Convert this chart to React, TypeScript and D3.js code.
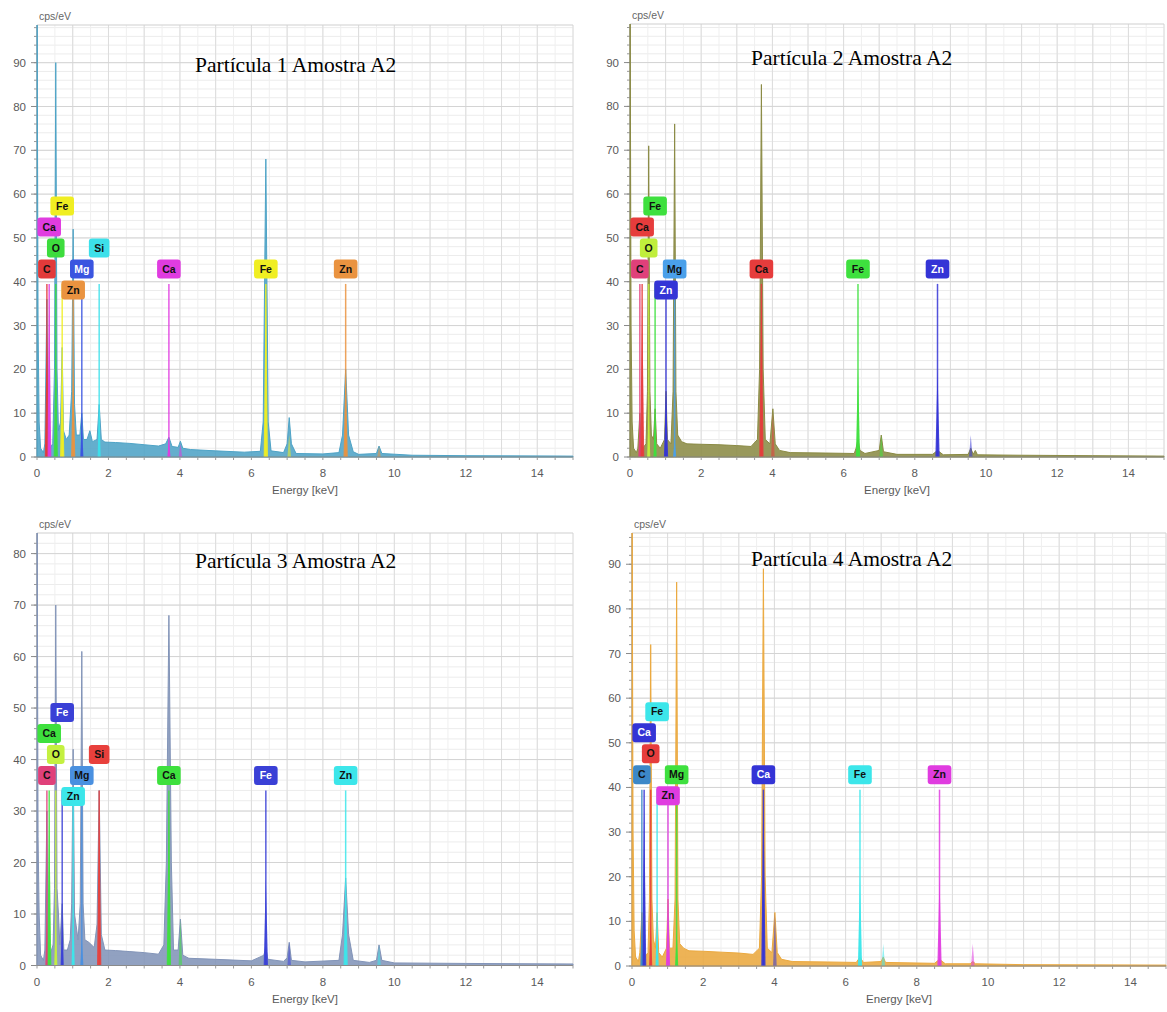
import React from "react";
import * as d3 from "d3";

type Pt = [number, number];

// ---------- shared axis values ----------
const panelTitles = [
  "Partícula 1 Amostra A2",
  "Partícula 2 Amostra A2",
  "Partícula 3 Amostra A2",
  "Partícula 4 Amostra A2",
];
const xTickValues = [0, 2, 4, 6, 8, 10, 12, 14];
const yTicksTo90 = [0, 10, 20, 30, 40, 50, 60, 70, 80, 90];
const yTicksTo80 = [0, 10, 20, 30, 40, 50, 60, 70, 80];
const xAxisTitle = "Energy [keV]";
const yAxisTitle = "cps/eV";

// K-beta lines drawn without labels
const betaSymbols = ["Ca", "Fe", "Zn"];
const betaEnergies = [4.013, 7.058, 9.572];

// ---------- Partícula 1 ----------
const p1Spectrum: Pt[] = [
  [0, 0], [0.005, 98.6], [0.03, 30], [0.06, 8], [0.1, 2], [0.18, 1], [0.22, 3],
  [0.277, 36], [0.31, 8], [0.36, 2], [0.44, 3], [0.49, 20], [0.525, 90], [0.56, 20],
  [0.6, 6], [0.66, 8], [0.705, 25], [0.74, 6], [0.82, 4], [0.9, 5], [0.97, 15],
  [1.012, 52], [1.05, 12], [1.1, 5], [1.2, 5], [1.254, 10], [1.3, 4], [1.4, 4],
  [1.48, 6], [1.55, 3.5], [1.68, 4], [1.74, 12], [1.8, 4], [1.9, 3.4], [2.2, 3.3],
  [2.6, 3.1], [3.0, 2.8], [3.4, 2.5], [3.6, 3], [3.691, 4.5], [3.78, 2.4], [3.95, 2.2],
  [4.013, 3.6], [4.08, 2], [4.3, 1.7], [5.0, 1.4], [5.8, 1.1], [6.25, 1.3], [6.33, 8],
  [6.404, 68], [6.47, 8], [6.55, 1.4], [6.9, 1], [7.0, 3], [7.058, 9], [7.12, 3],
  [7.25, 0.8], [8.0, 0.7], [8.45, 1], [8.55, 5], [8.638, 20], [8.72, 5], [8.85, 1.2],
  [9.0, 0.6], [9.5, 0.8], [9.572, 2.5], [9.65, 0.8], [10.5, 0.4], [12, 0.3], [15, 0.2],
];
const p1Symbols = ["C", "O", "Mg", "Si", "Ca", "Fe", "Zn", "Ca", "Fe", "Zn"];
const p1Energies = [0.277, 0.525, 1.254, 1.74, 3.691, 6.404, 8.638, 0.341, 0.705, 1.012];
const p1Fits = [30, 25, 8, 12, 4, 40, 20, 36, 25, 20];
const p1Tiers = [0, 1, 0, 1, 0, 0, 0, 2, 3, -1];
const p1BetaFits = [3, 5, 2.5];
const p1Palette: Record<string, string> = {
  C: "#e23a3a", O: "#3ddc3d", Mg: "#3a55e0", Si: "#3ce0ea",
  Ca: "#e03ce0", Fe: "#f0ee22", Zn: "#ea9340",
};

// ---------- Partícula 2 ----------
const p2Spectrum: Pt[] = [
  [0, 0], [0.005, 98.8], [0.03, 30], [0.06, 8], [0.1, 2], [0.18, 1], [0.22, 2],
  [0.277, 10], [0.31, 3], [0.36, 2], [0.45, 3], [0.49, 15], [0.525, 71], [0.56, 15],
  [0.6, 5], [0.66, 4], [0.705, 11], [0.75, 3], [0.85, 2], [0.97, 4], [1.012, 15],
  [1.05, 4], [1.15, 3], [1.21, 15], [1.254, 76], [1.29, 15], [1.34, 5], [1.45, 3.5],
  [1.6, 3], [2.0, 2.9], [2.5, 2.8], [3.0, 2.6], [3.4, 2.4], [3.58, 4], [3.64, 20],
  [3.691, 85], [3.74, 20], [3.8, 4], [3.93, 3], [4.013, 11], [4.08, 3], [4.2, 1.5],
  [4.5, 1], [5.5, 0.9], [6.3, 0.8], [6.35, 2], [6.404, 4], [6.46, 1.5], [6.6, 0.8],
  [7.0, 1.5], [7.058, 5], [7.12, 1.2], [7.5, 0.6], [8.5, 0.6], [8.638, 1.5], [8.8, 0.5],
  [9.5, 0.6], [9.572, 2], [9.64, 0.6], [9.7, 1.5], [9.76, 0.5], [11, 0.4], [13, 0.3],
  [15, 0.2],
];
const p2Symbols = ["C", "O", "Mg", "Ca", "Fe", "Zn", "Ca", "Fe", "Zn"];
const p2Energies = [0.277, 0.525, 1.254, 3.691, 6.404, 8.638, 0.341, 0.705, 1.012];
const p2Fits = [10, 11, 4, 40, 20, 20, 36, 11, 15];
const p2Tiers = [0, 1, 0, 0, 0, 0, 2, 3, -1];
const p2BetaFits = [10, 5, 5];
const p2Palette: Record<string, string> = {
  C: "#e0407a", O: "#c0ee3c", Mg: "#4aa0ea",
  Ca: "#e63c3c", Fe: "#3ee03e", Zn: "#3434d6",
};

// ---------- Partícula 3 ----------
const p3Spectrum: Pt[] = [
  [0, 0], [0.005, 84], [0.03, 25], [0.06, 10], [0.1, 2], [0.18, 1], [0.22, 3],
  [0.277, 30], [0.31, 5], [0.36, 2], [0.45, 4], [0.49, 15], [0.525, 70], [0.56, 15],
  [0.6, 10], [0.64, 4], [0.705, 12], [0.75, 3], [0.85, 3], [0.93, 5], [0.97, 12],
  [1.012, 42], [1.05, 10], [1.15, 5], [1.21, 12], [1.254, 61], [1.29, 12], [1.34, 5],
  [1.45, 4.5], [1.6, 3.5], [1.68, 8], [1.74, 34], [1.8, 6], [1.9, 3], [2.2, 2.9],
  [2.6, 2.7], [3.0, 2.5], [3.4, 2.2], [3.55, 4], [3.62, 20], [3.691, 68], [3.76, 20],
  [3.82, 3], [3.95, 3], [4.013, 9], [4.08, 2], [4.25, 1.4], [5.0, 1.2], [6.0, 0.9],
  [6.35, 2], [6.404, 3.5], [6.46, 1.2], [6.9, 0.8], [7.0, 1.5], [7.058, 4.5], [7.12, 1],
  [7.5, 0.7], [8.45, 1], [8.55, 6], [8.638, 17], [8.72, 6], [8.85, 1], [9.3, 0.6],
  [9.5, 1], [9.572, 4], [9.65, 1], [10, 0.5], [12, 0.4], [15, 0.3],
];
const p3Symbols = ["C", "O", "Mg", "Si", "Ca", "Fe", "Zn", "Ca", "Fe", "Zn"];
const p3Energies = [0.277, 0.525, 1.254, 1.74, 3.691, 6.404, 8.638, 0.341, 0.705, 1.012];
const p3Fits = [10, 10, 5, 33, 33, 17, 17, 30, 10, 12];
const p3Tiers = [0, 1, 0, 1, 0, 0, 0, 2, 3, -1];
const p3BetaFits = [9, 4.5, 4];
const p3Palette: Record<string, string> = {
  C: "#e0407a", O: "#c4f040", Mg: "#4a90e0", Si: "#e8403c",
  Ca: "#3ee03e", Fe: "#3a40d6", Zn: "#3ce6ea",
};

// ---------- Partícula 4 ----------
const p4Spectrum: Pt[] = [
  [0, 0], [0.005, 97], [0.03, 30], [0.06, 8], [0.1, 2], [0.18, 1], [0.22, 3],
  [0.277, 12], [0.31, 4], [0.36, 2], [0.45, 3], [0.49, 15], [0.525, 72], [0.56, 15],
  [0.6, 6], [0.66, 4], [0.705, 12], [0.75, 3], [0.85, 2], [0.97, 4], [1.012, 15],
  [1.05, 4], [1.15, 4], [1.21, 15], [1.254, 86], [1.29, 15], [1.34, 5], [1.45, 4],
  [1.6, 3.4], [2.0, 3.3], [2.5, 3.1], [3.0, 2.9], [3.4, 2.6], [3.58, 4], [3.64, 20],
  [3.691, 89], [3.74, 20], [3.8, 4], [3.93, 3], [4.013, 12], [4.08, 3], [4.2, 1.5],
  [4.5, 1], [5.5, 0.9], [6.3, 0.8], [6.404, 2], [6.5, 0.8], [7.0, 1], [7.058, 2],
  [7.12, 0.8], [8.5, 0.6], [8.638, 1.5], [8.8, 0.5], [9.5, 0.5], [9.572, 1], [9.65, 0.5],
  [11, 0.3], [15, 0.2],
];
const p4Symbols = ["C", "O", "Mg", "Ca", "Fe", "Zn", "Ca", "Fe", "Zn"];
const p4Energies = [0.277, 0.525, 1.254, 3.691, 6.404, 8.638, 0.341, 0.705, 1.012];
const p4Fits = [10, 10, 8, 40, 20, 20, 36, 12, 15];
const p4Tiers = [0, 1, 0, 0, 0, 0, 2, 3, -1];
const p4BetaFits = [12, 5, 5];
const p4Palette: Record<string, string> = {
  C: "#3c88c8", O: "#e63c3c", Mg: "#3ee03e",
  Ca: "#3434d6", Fe: "#3ce6ea", Zn: "#e03ce0",
};

// ---------- layout ----------
interface PanelProps {
  title: string;
  titleX: number;
  titleY: number;
  left: number;
  right: number;
  top: number;
  bottom: number;
  yMax: number;
  yTicks: number[];
  markerTop: number;
  spectrum: Pt[];
  fill: string;
  symbols: string[];
  energies: number[];
  fits: number[];
  tiers: number[];
  betaFits: number[];
  palette: Record<string, string>;
}

const sansFont = "'Liberation Sans', Arial, sans-serif";
const serifFont = "'Liberation Serif', 'Times New Roman', serif";

function labelWidth(sym: string): number {
  let w = 0;
  for (const ch of sym) {
    if (/[A-Z]/.test(ch)) w += 7.6;
    else if (ch === "i" || ch === "l") w += 3;
    else w += 6;
  }
  return w + 10;
}

function isDark(color: string): boolean {
  const c = d3.rgb(color);
  return 0.299 * c.r + 0.587 * c.g + 0.114 * c.b < 100;
}

function Panel(p: PanelProps) {
  const x = d3.scaleLinear().domain([0, 15]).range([p.left, p.right]);
  const y = d3.scaleLinear().domain([0, p.yMax]).range([p.bottom, p.top]);
  const area = d3
    .area<Pt>()
    .x((d) => x(d[0]))
    .y0(y(0))
    .y1((d) => y(Math.min(d[1], p.yMax)));

  const minorY = d3.range(0, p.yMax, 2);
  const minorX = d3.range(0, 15.01, 0.5);
  const majorX = d3.range(0, 15.01, 1);

  const peak = (e: number, h: number, w: number): Pt[] => [
    [e - w, 0],
    [e, h],
    [e + w, 0],
  ];

  const markerY = y(p.markerTop);

  return (
    <g>
      {/* grid */}
      {minorY.map((v) => (
        <line key={"my" + v} x1={p.left} x2={p.right} y1={y(v)} y2={y(v)} stroke="#ececec" strokeWidth={1} />
      ))}
      {minorX.map((v) => (
        <line key={"mx" + v} x1={x(v)} x2={x(v)} y1={p.top} y2={p.bottom} stroke="#efefef" strokeWidth={1} />
      ))}
      {majorX.map((v) => (
        <line key={"Mx" + v} x1={x(v)} x2={x(v)} y1={p.top} y2={p.bottom} stroke="#dcdcdc" strokeWidth={1} />
      ))}
      {p.yTicks.map((v) => (
        <line key={"My" + v} x1={p.left} x2={p.right} y1={y(v)} y2={y(v)} stroke="#d4d4d4" strokeWidth={1} />
      ))}
      <line x1={p.left} x2={p.right} y1={p.top} y2={p.top} stroke="#cfcfcf" strokeWidth={1} />

      {/* y axis */}
      <line x1={p.left} x2={p.left} y1={p.top} y2={p.bottom} stroke="#8a8a8a" strokeWidth={1} />
      {minorY.map((v) => (
        <line key={"ty" + v} x1={p.left - 3} x2={p.left} y1={y(v)} y2={y(v)} stroke="#9a9a9a" strokeWidth={1} />
      ))}
      {p.yTicks.map((v) => (
        <g key={"yt" + v}>
          <line x1={p.left - 6} x2={p.left} y1={y(v)} y2={y(v)} stroke="#8a8a8a" strokeWidth={1} />
          <text
            x={p.left - 11}
            y={y(v)}
            dy="0.35em"
            textAnchor="end"
            fontFamily={sansFont}
            fontSize={11.5}
            fill="#5a5a5a"
          >
            {v}
          </text>
        </g>
      ))}
      <text x={p.left + 2} y={p.top - 5} fontFamily={sansFont} fontSize={10.5} fill="#666">
        {yAxisTitle}
      </text>

      {/* main spectrum */}
      <path d={area(p.spectrum) || ""} fill={p.fill} fillOpacity={0.88} stroke={p.fill} strokeWidth={1} />

      {/* element fits */}
      {p.symbols.map((s, i) => (
        <path
          key={"fit" + i}
          d={area(peak(p.energies[i], p.fits[i], p.fits[i] > 14 ? 0.06 : 0.045)) || ""}
          fill={p.palette[s]}
          fillOpacity={0.9}
        />
      ))}
      {betaSymbols.map((s, i) => (
        <path
          key={"beta" + i}
          d={area(peak(betaEnergies[i], p.betaFits[i], 0.05)) || ""}
          fill={p.palette[s]}
          fillOpacity={0.55}
        />
      ))}

      {/* element marker lines */}
      {p.symbols.map((s, i) => (
        <line
          key={"mk" + i}
          x1={x(p.energies[i])}
          x2={x(p.energies[i])}
          y1={y(0)}
          y2={markerY}
          stroke={p.palette[s]}
          strokeWidth={1.5}
          strokeOpacity={0.85}
        />
      ))}

      {/* x axis */}
      <line x1={p.left} x2={p.right} y1={y(0)} y2={y(0)} stroke="#8a8a8a" strokeWidth={1} />
      {minorX.map((v) => (
        <line key={"tx" + v} x1={x(v)} x2={x(v)} y1={y(0)} y2={y(0) + 3} stroke="#9a9a9a" strokeWidth={1} />
      ))}
      {xTickValues.map((v) => (
        <text
          key={"xt" + v}
          x={x(v)}
          y={y(0) + 20}
          textAnchor="middle"
          fontFamily={sansFont}
          fontSize={11.5}
          fill="#5a5a5a"
        >
          {v}
        </text>
      ))}
      <text
        x={x(7.5)}
        y={y(0) + 37}
        textAnchor="middle"
        fontFamily={sansFont}
        fontSize={11.5}
        fill="#5a5a5a"
      >
        {xAxisTitle}
      </text>

      {/* element labels */}
      {p.symbols.map((s, i) => {
        const w = labelWidth(s);
        const cx = x(p.energies[i]);
        const cy = markerY - 15 - p.tiers[i] * 21;
        const col = p.palette[s];
        return (
          <g key={"lb" + i}>
            <rect x={cx - w / 2} y={cy - 9.5} width={w} height={19} rx={3} fill={col} />
            <text
              x={cx}
              y={cy}
              dy="0.35em"
              textAnchor="middle"
              fontFamily={sansFont}
              fontSize={10.5}
              fontWeight={600}
              fill={isDark(col) ? "#ffffff" : "#111111"}
            >
              {s}
            </text>
          </g>
        );
      })}

      {/* title */}
      <text x={p.titleX} y={p.titleY} fontFamily={serifFont} fontSize={21.5} fill="#000">
        {p.title}
      </text>
    </g>
  );
}

export default function App() {
  return (
    <svg
      width={1167}
      height={1012}
      style={{ position: "absolute", left: 0, top: 0, display: "block" }}
    >
      <rect x={0} y={0} width={1167} height={1012} fill="#ffffff" />
      <Panel
        title={panelTitles[0]}
        titleX={195}
        titleY={72}
        left={37}
        right={573}
        top={25}
        bottom={457}
        yMax={98.6}
        yTicks={yTicksTo90}
        markerTop={39.5}
        spectrum={p1Spectrum}
        fill="#4ea3c6"
        symbols={p1Symbols}
        energies={p1Energies}
        fits={p1Fits}
        tiers={p1Tiers}
        betaFits={p1BetaFits}
        palette={p1Palette}
      />
      <Panel
        title={panelTitles[1]}
        titleX={751}
        titleY={65}
        left={630}
        right={1164}
        top={24}
        bottom={457}
        yMax={98.8}
        yTicks={yTicksTo90}
        markerTop={39.5}
        spectrum={p2Spectrum}
        fill="#8b8b45"
        symbols={p2Symbols}
        energies={p2Energies}
        fits={p2Fits}
        tiers={p2Tiers}
        betaFits={p2BetaFits}
        palette={p2Palette}
      />
      <Panel
        title={panelTitles[2]}
        titleX={195}
        titleY={568}
        left={37}
        right={573}
        top={533}
        bottom={965.5}
        yMax={84}
        yTicks={yTicksTo80}
        markerTop={34}
        spectrum={p3Spectrum}
        fill="#8294b8"
        symbols={p3Symbols}
        energies={p3Energies}
        fits={p3Fits}
        tiers={p3Tiers}
        betaFits={p3BetaFits}
        palette={p3Palette}
      />
      <Panel
        title={panelTitles[3]}
        titleX={751}
        titleY={566}
        left={632}
        right={1166}
        top={533}
        bottom={966}
        yMax={97}
        yTicks={yTicksTo90}
        markerTop={39.5}
        spectrum={p4Spectrum}
        fill="#eba93f"
        symbols={p4Symbols}
        energies={p4Energies}
        fits={p4Fits}
        tiers={p4Tiers}
        betaFits={p4BetaFits}
        palette={p4Palette}
      />
    </svg>
  );
}
